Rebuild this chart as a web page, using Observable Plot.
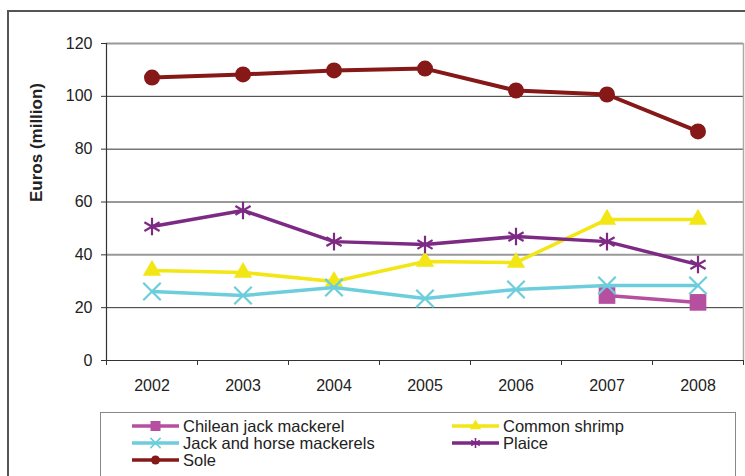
<!DOCTYPE html>
<html>
<head>
<meta charset="utf-8">
<script src="https://cdn.jsdelivr.net/npm/d3@7"></script>
<script src="https://cdn.jsdelivr.net/npm/@observablehq/plot@0.6"></script>
<style>
  html, body { margin: 0; padding: 0; background: #fff; }
  body { font-family: "Liberation Sans", Arial, sans-serif; }
  #wrap { position: relative; width: 745px; height: 476px; overflow: hidden; background: #fff; }
  #frame { position: absolute; left: 7px; top: 10px; width: 800px; height: 600px; border: 2px solid #555; box-sizing: border-box; }
  #chart { position: absolute; left: 0; top: 0; }
  #legend { position: absolute; left: 100px; top: 412px; width: 636px; height: 80px; border: 1px solid #888; box-sizing: border-box; background: #fff; }
  .item { position: absolute; height: 16px; display: flex; align-items: center; font-size: 16.5px; line-height: 16px; color: #222; white-space: nowrap; }
  .item svg { margin-right: 4px; }
  .item span { display: inline-block; height: 16px; line-height: 16px; overflow: visible; }
</style>
</head>
<body>
<div id="wrap">
  <div id="frame"></div>
  <div id="chart"></div>
  <div id="legend"></div>
</div>
<script>
const years = [2002, 2003, 2004, 2005, 2006, 2007, 2008];
const chileanJack = [null, null, null, null, null, 24.6, 22.0];
const commonShrimp = [34.1, 33.3, 29.9, 37.5, 37.1, 53.4, 53.4];
const jackHorse = [26.1, 24.6, 27.6, 23.5, 26.9, 28.4, 28.4];
const plaice = [50.7, 56.8, 45.0, 43.9, 46.9, 45.0, 36.3];
const sole = [107.1, 108.3, 109.8, 110.5, 102.2, 100.7, 86.7];
const yTicks = [0, 20, 40, 60, 80, 100, 120];
const yTitle = "Euros (million)";

const series = [
  {name: "Chilean jack mackerel", values: chileanJack, color: "#b64f9f", symbol: "square", r: 9.4, sw: 3.5},
  {name: "Common shrimp", values: commonShrimp, color: "#f2e614", symbol: "triangle", r: 6.8, sw: 3.5},
  {name: "Jack and horse mackerels", values: jackHorse, color: "#6ccedc", symbol: "times", r: 8, sw: 3.5},
  {name: "Plaice", values: plaice, color: "#7d2a85", symbol: "asterisk", r: 8.3, sw: 3.5},
  {name: "Sole", values: sole, color: "#861818", symbol: "circle", r: 8, sw: 4}
];

const boundaries = d3.range(years.length + 1).map(i => years[0] - 0.5 + i);

const marks = [];
marks.push(Plot.ruleY(yTicks.filter(d => d > 0), {
  stroke: d => (d === 40 || d === 120) ? "#999" : "#333",
  strokeWidth: d => (d === 40 || d === 120) ? 2 : 1
}));
marks.push(Plot.ruleX([boundaries[boundaries.length - 1]], {y1: 0, y2: 120, stroke: "#aaa", strokeWidth: 1.5}));
marks.push(Plot.axisY(yTicks, {tickSize: 5, tickPadding: 9, fontSize: 16, label: null, stroke: "#333", color: "#222"}));
marks.push(Plot.axisX(boundaries, {tickSize: 5, tickFormat: () => "", label: null, stroke: "#333"}));
marks.push(Plot.axisX(years, {tickSize: 0, tickPadding: 19, fontSize: 16, tickFormat: d => String(d), label: null, color: "#222"}));
marks.push(Plot.ruleX([boundaries[0]], {y1: 0, y2: 120, stroke: "#333", strokeWidth: 1.2}));
marks.push(Plot.ruleY([0], {stroke: "#333", strokeWidth: 1.2}));
for (const s of series) {
  const data = years.map((y, i) => ({year: y, value: s.values[i]})).filter(d => d.value != null);
  marks.push(Plot.line(data, {x: "year", y: "value", stroke: s.color, strokeWidth: s.sw}));
  const filled = s.symbol === "square" || s.symbol === "triangle" || s.symbol === "circle";
  marks.push(Plot.dot(data, {
    x: "year", y: "value", symbol: () => s.symbol, r: s.r,
    fill: filled ? s.color : "none",
    stroke: filled ? "none" : s.color,
    strokeWidth: filled ? 0 : 2.2
  }));
}
marks.push(Plot.text([yTitle], {
  frameAnchor: "left", text: d => d, rotate: -90, dx: -70,
  fontSize: 17, fontWeight: "bold", fill: "#222", lineAnchor: "middle"
}));

const chart = Plot.plot({
  width: 745,
  height: 400,
  marginLeft: 106,
  marginRight: 2,
  marginTop: 43,
  marginBottom: 40,
  style: {fontFamily: "'Liberation Sans', Arial, sans-serif", background: "transparent", overflow: "visible"},
  x: {type: "linear", domain: [boundaries[0], boundaries[boundaries.length - 1]], axis: null},
  y: {domain: [0, 120], axis: null},
  symbol: {type: "identity"},
  marks
});
document.getElementById("chart").appendChild(chart);

const legend = d3.select("#legend");
const legendSize = {square: 100, triangle: 55, times: 70, asterisk: 70, circle: 64};
const symMap = {square: d3.symbolSquare, triangle: d3.symbolTriangle, times: d3.symbolTimes, asterisk: d3.symbolAsterisk, circle: d3.symbolCircle};
const positions = [
  {left: 31, top: 5}, {left: 351, top: 5},
  {left: 31, top: 22}, {left: 351, top: 22},
  {left: 31, top: 39}
];
series.forEach((s, i) => {
  const item = legend.append("div").attr("class", "item")
    .style("left", positions[i].left + "px").style("top", positions[i].top + "px");
  const svg = item.append("svg").attr("width", 47).attr("height", 16);
  svg.append("line").attr("x1", 0).attr("x2", 47).attr("y1", 8).attr("y2", 8)
    .attr("stroke", s.color).attr("stroke-width", 3.5);
  const filled = s.symbol === "square" || s.symbol === "triangle" || s.symbol === "circle";
  svg.append("path").attr("transform", "translate(23.5,8)")
    .attr("d", d3.symbol(symMap[s.symbol], legendSize[s.symbol])())
    .attr("fill", filled ? s.color : "none")
    .attr("stroke", filled ? "none" : s.color)
    .attr("stroke-width", 1.6);
  item.append("span").text(s.name);
});
</script>
</body>
</html>
